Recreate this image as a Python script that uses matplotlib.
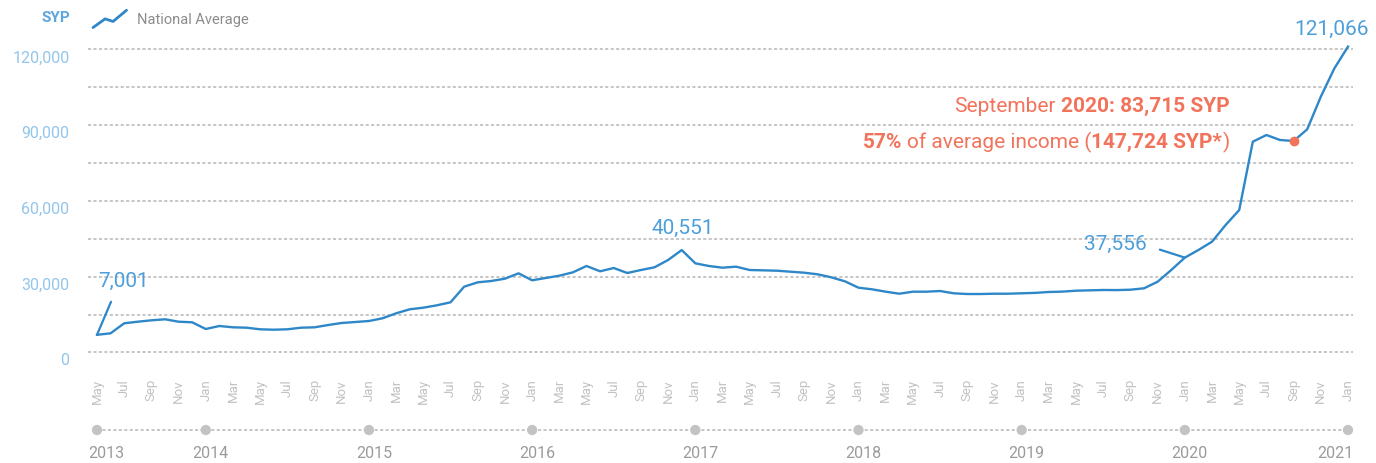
import matplotlib
matplotlib.use("Agg")
import matplotlib.pyplot as plt
import matplotlib.transforms as mtransforms
from matplotlib.lines import Line2D
from matplotlib.legend_handler import HandlerBase

# ---------------- data ----------------
month_names = ["Jan", "Feb", "Mar", "Apr", "May", "Jun",
               "Jul", "Aug", "Sep", "Oct", "Nov", "Dec"]
start_year = 2013
start_month = 5  # May 2013
series_name = "National Average"
# monthly national average (SYP), May 2013 .. Jan 2021
values = [
    7001, 7600, 11560, 12190, 12740, 13140, 12190, 11950,                      # 2013 May-Dec
    9300, 10490, 9970, 9820, 9180, 9020, 9180, 9820, 9970, 10880, 11680, 12070,  # 2014
    12470, 13540, 15510, 17100, 17740, 18680, 19870, 26050, 27780, 28300, 29220, 31340,  # 2015
    28580, 29490, 30400, 31740, 34240, 32140, 33440, 31470, 32650, 33720, 36610, 40551,  # 2016
    35300, 34240, 33570, 33970, 32650, 32520, 32380, 31980, 31590, 30940, 29760, 28180,  # 2017
    25650, 25010, 24070, 23270, 24070, 24070, 24340, 23430, 23150, 23150, 23270, 23270,  # 2018
    23430, 23600, 23950, 24100, 24460, 24600, 24740, 24700, 24860, 25410, 28020, 32650,  # 2019
    37556, 40570, 43860, 50460, 56400, 83440, 86090, 84110, 83715, 88340, 101250, 112480,  # 2020
    121066,                                                                     # 2021 Jan
]
years = [2013, 2014, 2015, 2016, 2017, 2018, 2019, 2020, 2021]
y_ticks = [0, 30000, 60000, 90000, 120000]
grid_values = [0, 15000, 30000, 45000, 60000, 75000, 90000, 105000, 120000]
highlight_month = "2020-09"
highlight_lines = [
    [("September", "normal"), ("2020: 83,715 SYP", "bold")],
    [("57%", "bold"), ("of average income (", "normal"), ("147,724 SYP*", "bold"), (")", "normal")],
]

# ---------------- derived ----------------
n = len(values)
x = list(range(n))
def month_index(year, month):
    return (year - start_year) * 12 + (month - start_month)
tick_pos = list(range(0, n, 2))
tick_lab = [month_names[(start_month - 1 + i) % 12] for i in tick_pos]
year_pos = [0 if y == start_year else month_index(y, 1) for y in years]
hy, hm = map(int, highlight_month.split("-"))
hi = month_index(hy, hm)

# ---------------- style ----------------
plt.rcParams["font.family"] = ["Roboto", "DejaVu Sans"]
LINE = "#2e87c9"
NUM = "#4d9fda"
TICK = "#93c6ea"
RED = "#f2735b"
GRID = "#c6c6c6"
MON = "#c2c2c2"
YEAR = "#9b9b9b"
DASH = (0, (1.6, 1.2))

W, H = 1376, 463
fig = plt.figure(figsize=(W / 100, H / 100), dpi=100)

def frac(left, top, right, bottom):
    return [left / W, 1 - bottom / H, (right - left) / W, (bottom - top) / H]

ax = fig.add_axes(frac(83.4, 36.7, 1361.6, 357.55))
ax.set_xlim(-1, 93)
ax.set_ylim(-2000, 125000)
for s in ax.spines.values():
    s.set_visible(False)

ax.hlines(grid_values, -0.66, 92.35, colors=GRID, linestyles=DASH,
          linewidth=1.4, zorder=1)

ax.plot(x, values, color=LINE, lw=1.7, zorder=3, solid_joinstyle="round",
        label=series_name)
ax.plot([hi], [values[hi]], "o", color=RED, ms=6, zorder=4)

# y ticks
ax.set_yticks(y_ticks)
ax.set_yticklabels([f"{v:,}" for v in y_ticks])
ax.tick_params(axis="y", length=0, pad=10, labelsize=11.5, labelcolor=TICK)
off = mtransforms.ScaledTranslation(0, -7 / 100, fig.dpi_scale_trans)
for lab in ax.get_yticklabels():
    lab.set_transform(lab.get_transform() + off)

# x ticks (months)
ax.set_xticks(tick_pos)
ax.set_xticklabels(tick_lab, rotation=90)
ax.tick_params(axis="x", length=0, pad=15.5, labelsize=9.5, labelcolor=MON)

# SYP unit
syp = ax.text(0, 1, "SYP", fontsize=11, fontweight="bold",
              color="#5ea6de", ha="right", va="center")
syp.set_transform(ax.transAxes + mtransforms.ScaledTranslation(-13.4 / 100, 18.4 / 100, fig.dpi_scale_trans))

# legend with zigzag icon
class Zigzag(HandlerBase):
    def create_artists(self, legend, orig, xd, yd, width, height, fontsize, trans):
        xs = [0.0, 0.36, 0.6, 1.0]
        ys = [-0.35, 0.5, 0.25, 1.35]
        l = Line2D([-xd + width * a for a in xs], [-yd + height * b for b in ys],
                   color=LINE, lw=2.0, transform=trans, solid_capstyle="round")
        return [l]

leg = fig.legend(handles=[Line2D([], [])], labels=[series_name],
                 handler_map={Line2D: Zigzag()}, loc="center left",
                 bbox_to_anchor=(93 / W, 1 - 20 / H), frameon=False,
                 handlelength=2.3, handletextpad=0.7, borderpad=0, borderaxespad=0,
                 prop={"family": "Roboto", "size": 10.5})
for t in leg.get_texts():
    t.set_color("#8c8c8c")

# value callouts
def callout(i, dx, dy, text, ha="center", lead=None):
    if lead is not None:
        ax.annotate("", xy=(i, values[i]), xytext=lead, textcoords="offset pixels",
                    arrowprops=dict(arrowstyle="-", color=LINE, lw=1.6,
                                    shrinkA=0, shrinkB=0), annotation_clip=False)
    ax.annotate(text, xy=(i, values[i]), xytext=(dx, dy), textcoords="offset pixels",
                ha=ha, va="center", fontsize=15, color=NUM, annotation_clip=False)

i_first = 0
i_peak = values.index(max(values[:60]))
i_jan20 = month_index(2020, 1)
i_last = n - 1
callout(i_first, 1, 53, f"{values[i_first]:,}", ha="left", lead=(14, 33))
callout(i_peak, 1, 21.5, f"{values[i_peak]:,}")
callout(i_jan20, -38, 13.6, f"{values[i_jan20]:,}", ha="right", lead=(-25, 8))
callout(i_last, -16, 17, f"{values[i_last]:,}")

# highlighted annotation (mixed weights), right aligned
renderer = fig.canvas.get_renderer()
def measure(s, weight, size):
    t = fig.text(0, 0, s, fontsize=size, fontweight=weight)
    w = t.get_window_extent(renderer).width
    t.remove()
    return w

RSIZE = 15
space_w = measure("x x", "normal", RSIZE) - measure("xx", "normal", RSIZE)
for line, dy in zip(highlight_lines, [35, -1]):
    widths = [measure(s, w, RSIZE) for s, w in line]
    gaps = []
    for k, (s, w) in enumerate(line):
        if k == 0:
            gaps.append(0)
        else:
            prev = line[k - 1][0]
            gaps.append(0 if (prev.endswith("(") or s.startswith(")")) else space_w)
    total = sum(widths) + sum(gaps)
    xx = -64 - total
    for (s, w), wd, g in zip(line, widths, gaps):
        xx += g
        ax.annotate(s, xy=(hi, values[hi]), xytext=(xx, dy), textcoords="offset pixels",
                    ha="left", va="center", fontsize=RSIZE, fontweight=w, color=RED,
                    annotation_clip=False)
        xx += wd

# year timeline
ax2 = fig.add_axes(frac(83.4, 419, 1361.6, 441))
ax2.set_xlim(-1, 93)
ax2.set_ylim(-1, 1)
ax2.axis("off")
ax2.hlines([0], year_pos[0], year_pos[-1], colors=GRID, linestyles=DASH,
           linewidth=1.4, zorder=1)
ax2.scatter(year_pos, [0] * len(year_pos), s=55, color="#c3c3c3", zorder=2,
            edgecolors="none")
for k, (yr, p) in enumerate(zip(years, year_pos)):
    dx = 5
    if k == 0:
        dx = 9
    elif k == len(years) - 1:
        dx = -13
    ax2.annotate(str(yr), xy=(p, 0), xytext=(dx, -24), textcoords="offset pixels",
                 ha="center", va="center", fontsize=11.5, color=YEAR,
                 annotation_clip=False)

fig.savefig("out.png", dpi=100)
